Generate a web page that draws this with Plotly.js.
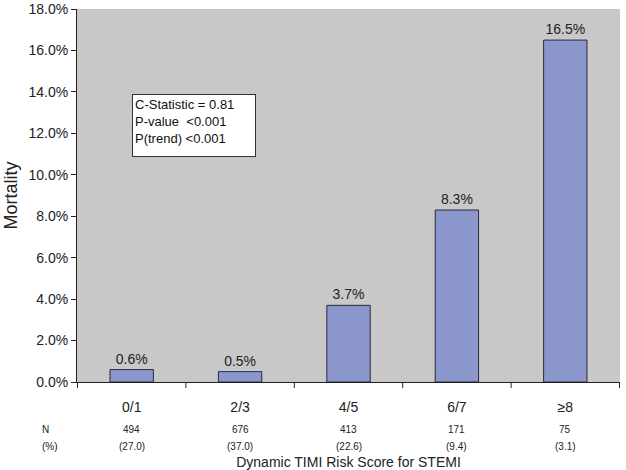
<!DOCTYPE html>
<html><head><meta charset="utf-8">
<script src="https://cdn.plot.ly/plotly-3.0.1.min.js"></script>
<style>body{margin:0;background:#fff}#c{width:626px;height:470px}</style>
</head><body><div id="c"></div>
<script>
var categories = ["0/1", "2/3", "4/5", "6/7", "≥8"];
var mortality = [0.6, 0.5, 3.7, 8.3, 16.5];
var nCounts = ["494", "676", "413", "171", "75"];
var nPercents = ["(27.0)", "(37.0)", "(22.6)", "(9.4)", "(3.1)"];
var statsLines = ["C-Statistic = 0.81", "P-value  <0.001", "P(trend) <0.001"];
var yTickVals = [0, 2, 4, 6, 8, 10, 12, 14, 16, 18];

var font = "Liberation Sans, Arial, sans-serif";
var annotations = [];
categories.forEach(function(c, i){
  annotations.push({x: c, xref: "x", y: -0.127, yref: "paper", yanchor: "middle", text: nCounts[i], showarrow: false, font: {size: 10, color: "#222"}});
  annotations.push({x: c, xref: "x", y: -0.172, yref: "paper", yanchor: "middle", text: nPercents[i], showarrow: false, font: {size: 10, color: "#222"}});
});
annotations.push({x: -0.068, xref: "paper", y: -0.127, yref: "paper", yanchor: "middle", text: "N", showarrow: false, font: {size: 10, color: "#222"}});
annotations.push({x: -0.068, xref: "paper", y: -0.172, yref: "paper", yanchor: "middle", text: "(%)", showarrow: false, font: {size: 10, color: "#222"}});
annotations.push({
  x: 0.101, xref: "paper", y: 0.771, yref: "paper", xanchor: "left", yanchor: "top",
  text: statsLines.join("<br>"), showarrow: false, align: "left", valign: "top",
  width: 118, height: 57, bgcolor: "#ffffff", bordercolor: "#333", borderwidth: 1, borderpad: 2,
  font: {size: 13, color: "#111"}
});

var trace = {
  type: "bar", x: categories, y: mortality,
  text: mortality.map(function(v){ return v.toFixed(1) + "%"; }),
  textposition: "outside", cliponaxis: false,
  textfont: {size: 14, color: "#222"},
  marker: {color: "#8b96cd", line: {color: "#2a2a3a", width: 1}},
  width: 0.4, hoverinfo: "none"
};
var layout = {
  width: 626, height: 470,
  margin: {l: 77, r: 6, t: 9, b: 88},
  paper_bgcolor: "#ffffff", plot_bgcolor: "#c8c8c8",
  font: {family: font, color: "#222"},
  showlegend: false,
  xaxis: {
    type: "category", showgrid: false, zeroline: false,
    showline: true, linecolor: "#222", linewidth: 1,
    ticks: "", tickfont: {size: 14}, ticklabelstandoff: 12,
    title: {text: "Dynamic TIMI Risk Score for STEMI", font: {size: 14}, standoff: 50}
  },
  yaxis: {
    range: [0, 18], tickmode: "array", tickvals: yTickVals,
    ticktext: yTickVals.map(function(v){ return v.toFixed(1) + "%"; }),
    ticklabeloverflow: "allow",
    showgrid: false, zeroline: false,
    showline: true, mirror: false, linecolor: "#222", linewidth: 1,
    ticks: "outside", ticklen: 5, tickcolor: "#222",
    tickfont: {size: 14},
    title: {text: "Mortality", font: {size: 18}, standoff: 6}
  },
  shapes: [],
  annotations: annotations
};
for (var i = 0; i <= categories.length; i++) {
  layout.shapes.push({type: "line", xref: "x", yref: "paper", x0: i - 0.5, x1: i - 0.5, y0: 0, y1: -0.016, line: {color: "#222", width: 1}});
}
Plotly.newPlot("c", [trace], layout, {displayModeBar: false, staticPlot: true});
</script></body></html>
